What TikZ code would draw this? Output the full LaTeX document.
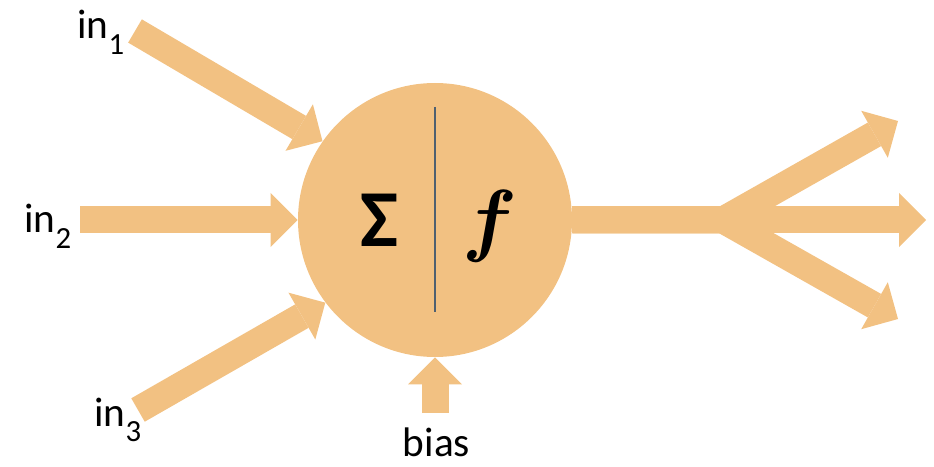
\documentclass[tikz,border=0pt]{standalone}
\usepackage{fontspec}
\setmainfont{Carlito}
\usepackage{xcolor}
\usepackage{tikz}
\usetikzlibrary{arrows.meta,calc}

\definecolor{neuronfill}{HTML}{F2C182}
\definecolor{dividerline}{HTML}{4F6070}
\newcommand{\insub}[1]{\raisebox{-0.38em}{\fontsize{17.5}{18}\selectfont #1}}

\begin{document}
\begin{tikzpicture}
  % Styles
  \tikzstyle{unit} = [circle, fill=neuronfill, draw=none, minimum size=5.48cm, inner sep=0pt]
  \tikzstyle{signal} = [line width=0.54cm, color=neuronfill, line join=miter, -{Triangle[width=1.08cm, length=0.54cm, line width=0pt]}]
  \tikzstyle{inlabel} = [anchor=base west, inner sep=0pt, font=\fontsize{23.5}{28}\selectfont]
  \tikzstyle{divider} = [line width=1.3pt, color=dividerline]

  \useasboundingbox (0,0) rectangle (18.68,9.32);

  % Neuron body
  \node[unit] (neuron) at (8.70, 4.92) {};

  % Free ends of the signals
  \coordinate (tail1) at (2.70, 8.70);
  \coordinate (tail2) at (1.60, 4.92);
  \coordinate (tail3) at (2.76, 1.12);
  \coordinate (tailb) at (8.70, 1.06);
  \coordinate (split) at (14.46, 4.92);
  \coordinate (outup) at (17.96, 6.90);
  \coordinate (outmid) at (18.52, 4.92);
  \coordinate (outdown) at (17.96, 2.94);

  % Inputs
  \draw[signal] (tail1) -- (neuron.145);
  \draw[signal] (tail2) -- (neuron.west);
  \draw[signal] (tail3) -- (neuron.217);
  \draw[signal] (tailb) -- (neuron.south);

  % Outputs
  \draw[signal] (neuron.east) -- (split) -- (outup);
  \draw[signal] (neuron.east) -- (split) -- (outmid);
  \draw[signal] (neuron.east) -- (split) -- (outdown);

  % Sum and activation
  \draw[divider] ([yshift=2.26cm]neuron.center) -- ([yshift=-1.84cm]neuron.center);
  \node[font=\fontsize{46}{50}\selectfont\bfseries] (sigma) at (7.59, 4.92) {Σ};
  \node[scale=4.6, font=\mathversion{bold}] (act) at (9.80, 4.79) {$f$};

  % Labels
  \node[inlabel] (in1) at (1.54, 8.54) {in\insub{1}};
  \node[inlabel] (in2) at (0.48, 4.66) {in\insub{2}};
  \node[inlabel] (in3) at (1.88, 0.80) {in\insub{3}};
  \node[inlabel, anchor=base] (bias) at (8.73, 0.20) {bias};
\end{tikzpicture}
\end{document}
